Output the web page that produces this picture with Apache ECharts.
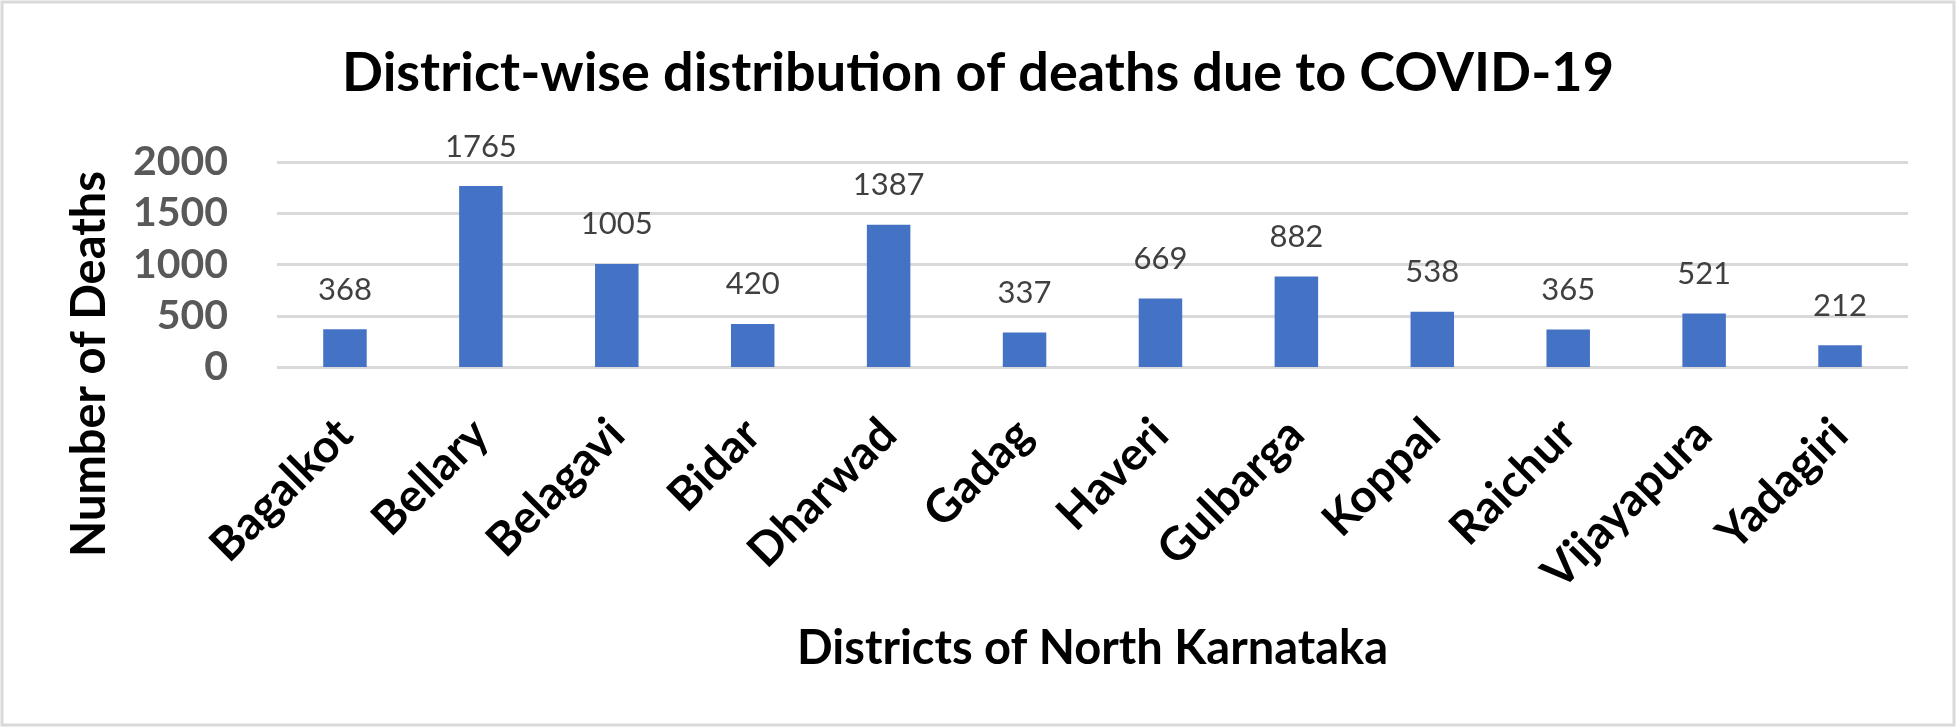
<!DOCTYPE html>
<html>
<head>
<meta charset="utf-8">
<script src="https://cdn.jsdelivr.net/npm/echarts@6/dist/echarts.min.js"></script>
<style>
html,body{margin:0;padding:0;background:#fff;}
#chart{width:1956px;height:728px;}
</style>
</head>
<body>
<div id="chart"></div>
<script>
const districts = ['Bagalkot','Bellary','Belagavi','Bidar','Dharwad','Gadag','Haveri','Gulbarga','Koppal','Raichur','Vijayapura','Yadagiri'];
const deaths = [368, 1765, 1005, 420, 1387, 337, 669, 882, 538, 365, 521, 212];
const yTicks = [0, 500, 1000, 1500, 2000];

const FONT = 'Lato, "Open Sans", sans-serif';
const chart = echarts.init(document.getElementById('chart'), null, {renderer:'canvas'});
chart.setOption({
  backgroundColor:'#ffffff',
  animation:false,
  title:{
    text:'District-wise distribution of deaths due to COVID-19',
    left:'center', top:42,
    textStyle:{fontFamily:FONT, fontWeight:'bold', fontSize:54, color:'#000000'}
  },
  graphic:[
    {type:'rect', shape:{x:2, y:2, width:1952, height:723}, style:{fill:'none', stroke:'#d9d9d9', lineWidth:3}, silent:true},
    {type:'text', x:90, y:364, rotation:Math.PI/2,
     style:{text:'Number of Deaths', fontFamily:FONT, fontWeight:'bold', fontSize:47, fill:'#000000', align:'center', verticalAlign:'middle'}}
  ],
  grid:{left:277, right:48, top:162, bottom:361, containLabel:false},
  xAxis:{
    type:'category', data:districts,
    name:'Districts of North Karnataka', nameLocation:'middle', nameGap:282,
    nameTextStyle:{fontFamily:FONT, fontWeight:'bold', fontSize:47, color:'#000000', verticalAlign:'middle'},
    axisLine:{show:false}, axisTick:{show:false},
    axisLabel:{interval:0, rotate:45, margin:60, fontFamily:FONT, fontWeight:'bold', fontSize:46, color:'#000000'}
  },
  yAxis:{
    type:'value', min:0, max:2000, interval:500,
    axisLine:{show:false}, axisTick:{show:false},
    splitLine:{lineStyle:{color:'#d9d9d9', width:3}},
    axisLabel:{margin:49, fontFamily:FONT, fontWeight:'bold', fontSize:41, color:'#595959',
      formatter:function(v){return yTicks.indexOf(v)>=0 ? String(v) : '';}}
  },
  series:[{
    type:'bar', data:deaths, barWidth:'32%',
    itemStyle:{color:'#4472C4'},
    label:{show:true, position:'top', distance:24, fontFamily:FONT, fontSize:31, color:'#404040'}
  }]
});
</script>
</body>
</html>
